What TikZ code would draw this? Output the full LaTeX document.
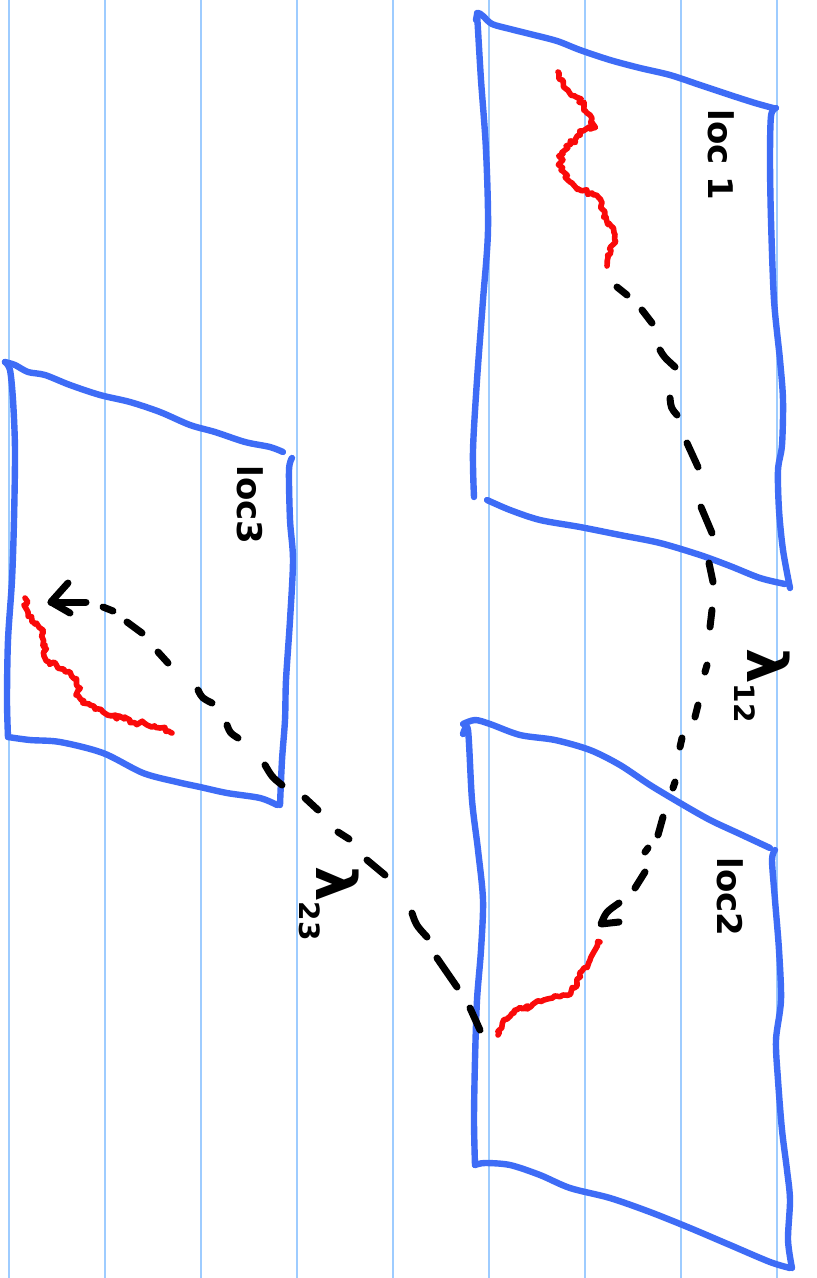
\documentclass[tikz,border=0pt]{standalone}
\usepackage{fontspec}
\setmainfont{DejaVu Sans}
\usetikzlibrary{decorations.pathmorphing}
\definecolor{gridblue}{RGB}{158,204,255}
\definecolor{penblue}{RGB}{62,108,246}
\definecolor{penred}{RGB}{250,10,10}
\tikzset{
  gridline/.style={draw=gridblue,line width=1.8pt},
  boxedge/.style={draw=penblue,line width=6.4pt,line cap=round,line join=round},
  squiggle/.style={draw=penred,line width=5.6pt,line cap=round,line join=round,
     decorate,decoration={random steps,segment length=2.8pt,amplitude=2.6pt}},
  dashstroke/.style={draw=black,line width=7pt,line cap=round,line join=round},
  loclabel/.style={rotate=-90,font=\bfseries\fontsize{34}{34}\selectfont,inner sep=0pt},
  lamlabel/.style={rotate=-90,font=\bfseries\fontsize{56}{56}\selectfont,inner sep=0pt,anchor=base west},
}
\newcommand{\subsc}[2]{\raisebox{-#1}{\fontsize{28}{28}\selectfont #2}}
\begin{document}
\begin{tikzpicture}[x=1pt,y=-1pt]
\fill[white] (0,0) rectangle (817,1278);
\useasboundingbox (0,0) rectangle (817,1278);
% ruled paper
\foreach \gx in {9,105,201,297,393,489,585,681,777}
  \draw[gridline] (\gx,0) -- (\gx,1278);

% ---------- box loc 1 ----------
\draw[boxedge] plot[smooth,tension=0.5] coordinates {(476,20) (478,13) (483,16) (492,24) (510,29) (530,34) (557,41) (580,50) (610,60) (640,68) (670,75) (700,85) (730,95) (755,103) (773,108)};
\draw[boxedge] plot[smooth,tension=0.5] coordinates {(477,13) (478,30) (481,80) (486,150) (488,230) (483,300) (477,380) (473,450) (474,497)};
\draw[boxedge] plot[smooth,tension=0.5] coordinates {(776,108) (771,116) (770,160) (771,220) (774,300) (780,360) (783,400) (782,445) (778,470) (779,510) (783,550) (790,588)};
\draw[boxedge] plot[smooth,tension=0.5] coordinates {(487,500) (510,510) (540,520) (580,527) (620,535) (660,543) (700,555) (730,566) (760,578) (785,584)};

% ---------- box loc 2 ----------
\draw[boxedge] plot[smooth,tension=0.5] coordinates {(463,724) (475,720) (490,724) (520,735) (555,740) (590,750) (620,765) (650,785) (680,803) (710,820) (740,834) (770,848)};
\draw[boxedge] plot[smooth,tension=0.5] coordinates {(463,734) (468,730) (472,800) (478,850) (483,900) (481,950) (477,1000) (475,1060) (474,1120) (475,1165)};
\draw[boxedge] plot[smooth,tension=0.5] coordinates {(775,850) (772,860) (775,900) (779,950) (781,1000) (776,1040) (778,1080) (782,1130) (787,1170) (790,1200) (788,1240) (792,1268)};
\draw[boxedge] plot[smooth,tension=0.5] coordinates {(475,1165) (485,1163) (510,1165) (540,1175) (570,1188) (610,1198) (650,1212) (690,1228) (730,1245) (770,1262) (790,1268)};

% ---------- box loc 3 ----------
\draw[boxedge] plot[smooth,tension=0.5] coordinates {(5,362) (15,365) (28,372) (45,375) (70,385) (100,395) (130,402) (160,412) (190,425) (215,432) (245,442) (270,447) (283,452)};
\draw[boxedge] plot[smooth,tension=0.5] coordinates {(5,362) (10,370) (13,400) (15,450) (14,520) (12,580) (8,640) (7,700) (8,737)};
\draw[boxedge] plot[smooth,tension=0.5] coordinates {(292,458) (289,470) (290,520) (293,560) (290,620) (286,680) (285,720) (282,760) (280,805)};
\draw[boxedge] plot[smooth,tension=0.5] coordinates {(8,737) (30,740) (60,742) (103,753) (143,773) (177,782) (200,787) (227,793) (260,798) (277,805)};

% ---------- red trajectories ----------
\coordinate (r1s) at (558,72);
\coordinate (r1e) at (607,266);
\coordinate (r2s) at (600,942);
\coordinate (r2e) at (498,1035);
\coordinate (r3s) at (25,598);
\coordinate (r3e) at (172,733);
\draw[squiggle] plot coordinates {(r1s) (562,80) (568,90) (575,96) (582,103) (590,115) (593,128) (583,131) (575,140) (566,146) (561,155) (561,170) (570,182) (580,190) (592,193) (599,198) (601,208) (606,217) (612,227) (615,240) (611,250) (608,257) (r1e)};
\draw[squiggle] plot coordinates {(r2s) (595,950) (590,960) (584,968) (580,976) (577,986) (571,992) (563,995) (553,998) (543,1000) (533,1004) (523,1009) (514,1013) (507,1019) (502,1026) (r2e)};
\draw[squiggle] plot coordinates {(r3s) (28,612) (35,624) (42,632) (45,645) (44,656) (52,663) (62,669) (73,677) (78,687) (76,695) (90,705) (103,712) (115,717) (130,720) (147,725) (160,728) (r3e)};

% ---------- lambda 12 transition ----------
\draw[dashstroke] (617,287) -- (627,295)
  (642,310) -- (652,323)
  (660,350) .. controls (664,357) .. (675,367)
  (670,398) .. controls (671,408) .. (677,415)
  (687,443) -- (698,467)
  (701,507) -- (712,533)
  (709,563) -- (713,582)
  (712,610) -- (710,627)
  (707,665) -- (705,672)
  (698,705) -- (695,717)
  (682,738) -- (680,747)
  (675,782) -- (673,788)
  (663,817) -- (658,835)
  (648,848) -- (645,852)
  (645,872) -- (635,888);
\coordinate (a12) at (601,924);
\draw[dashstroke] (619,903) .. controls (606,912) .. (a12) -- (619,922);

% ---------- lambda 23 transition ----------
\draw[dashstroke] (480,1030) -- (470,1008)
  (457,987) -- (437,958)
  (427,937) .. controls (416,925) .. (412,913)
  (385,875) -- (367,860)
  (349,839) -- (338,832)
  (318,810) -- (305,798)
  (282,785) .. controls (272,777) .. (265,765)
  (238,738) .. controls (230,733) .. (227,725)
  (212,703) .. controls (202,698) .. (198,690)
  (168,663) -- (158,652)
  (142,633) -- (127,622)
  (113,611) -- (103,607);
\coordinate (a23) at (51,602);
\draw[dashstroke] (68,583) -- (a23) -- (70,613);
\draw[dashstroke] (a23) -- (86,602);

% ---------- labels ----------
\node[loclabel] (loc1) at (721,155) {loc 1};
\node[loclabel] (loc2) at (730,897) {loc2};
\node[loclabel] (loc3) at (250,505) {loc3};
\node[lamlabel] (lam12) at (747,648) {λ\subsc{13pt}{12}};
\node[lamlabel] (lam23) at (316,866) {λ\subsc{17pt}{23}};
\end{tikzpicture}
\end{document}
